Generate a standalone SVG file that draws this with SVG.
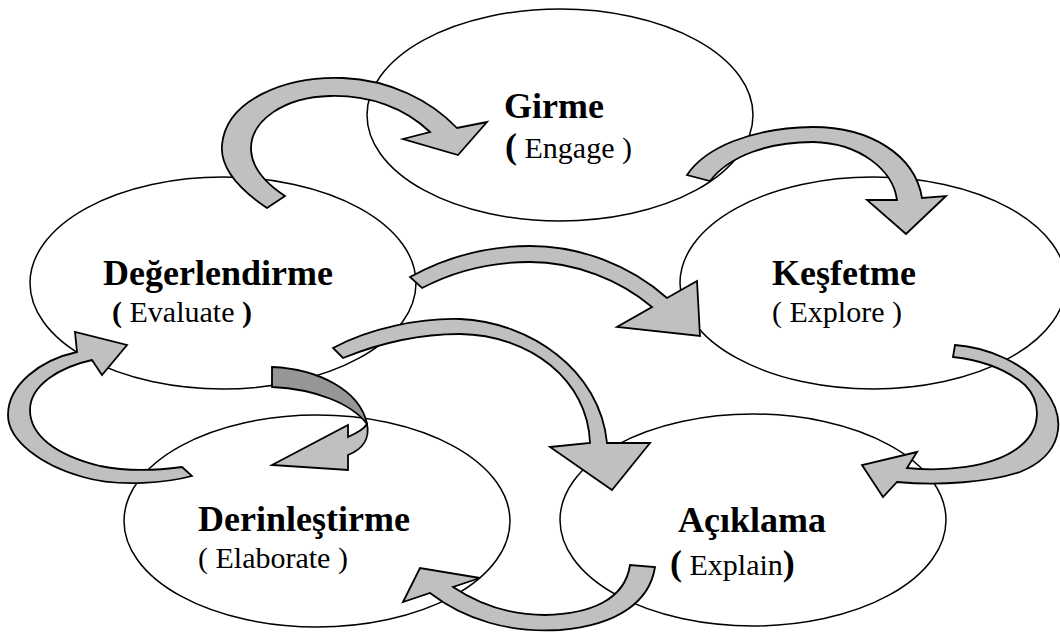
<svg xmlns="http://www.w3.org/2000/svg" width="1060" height="632" viewBox="0 0 1060 632">
  <style>
    .node ellipse { fill: #ffffff; stroke: #000000; stroke-width: 1.5; }
    .title { font-family: "Liberation Serif", "Times New Roman", serif; font-weight: bold; font-size: 36px; fill: #000000; }
    .eng { font-family: "Liberation Serif", "Times New Roman", serif; font-weight: normal; font-size: 30px; fill: #000000; }
    .b { font-weight: bold; }
    .big { font-size: 36px; }
    .arrow { fill: #c0c0c0; stroke: #000000; stroke-width: 1.8; stroke-linejoin: miter; }
    .arrow-dark { fill: #969696; stroke: #000000; stroke-width: 1.8; }
  </style>
  <rect width="1060" height="632" fill="#ffffff"/>

  <!-- cycle stages -->
  <g id="girme" class="node">
    <ellipse cx="560" cy="115" rx="193" ry="106"/>
    <text class="title" x="504" y="118">Girme</text>
    <text class="eng" font-family="Liberation Serif, serif" font-size="30" x="505" y="158"><tspan class="b big">(</tspan> Engage )</text>
  </g>
  <g id="degerlendirme" class="node">
    <ellipse cx="223" cy="283" rx="193" ry="106"/>
    <text class="title" x="103" y="285">Değerlendirme</text>
    <text class="eng" font-family="Liberation Serif, serif" font-size="30" x="112" y="322"><tspan class="b">(</tspan> Evaluate <tspan class="b">)</tspan></text>
  </g>
  <g id="kesfetme" class="node">
    <ellipse cx="873" cy="283" rx="193" ry="106"/>
    <text class="title" x="772" y="285">Keşfetme</text>
    <text class="eng" font-family="Liberation Serif, serif" font-size="30" x="772" y="322">( Explore )</text>
  </g>
  <g id="derinlestirme" class="node">
    <ellipse cx="317" cy="521" rx="193" ry="106"/>
    <text class="title" x="198" y="531">Derinleştirme</text>
    <text class="eng" font-family="Liberation Serif, serif" font-size="30" x="198" y="568">( Elaborate )</text>
  </g>
  <g id="aciklama" class="node">
    <ellipse cx="753" cy="520" rx="193" ry="106"/>
    <text class="title" x="678" y="532">Açıklama</text>
    <text class="eng" font-family="Liberation Serif, serif" font-size="30" x="670" y="575"><tspan class="b big">(</tspan> Explain<tspan class="b big">)</tspan></text>
  </g>

  <!-- curved block arrows -->
  <g id="connectors">
    <!-- Değerlendirme to Girme -->
    <path class="arrow" d="M267,208 C240,190 220,168 222,145 C226,100 285,76 343,78 C390,80 430,100 457,128 L487,122 L458,155 L403,139 L430,132 C405,108 370,95 330,96 C285,97 250,120 251,150 C252,168 265,183 285,196 Z"/>
    <!-- Girme to Keşfetme -->
    <path class="arrow" d="M687,175 C705,148 750,128 813,127 C870,127 915,155 922,198 L946,196 L906,234 L867,200 L897,200 C893,170 860,143 813,142 C770,142 730,155 710,181 Z"/>
    <!-- Değerlendirme to Keşfetme -->
    <path class="arrow" d="M410,277 C450,255 490,246 530,246 C580,246 630,265 667,298 L697,281 L700,336 L617,327 L652,307 C620,280 575,262 530,262 C500,262 460,268 422,288 Z"/>
    <!-- Değerlendirme to Açıklama -->
    <path class="arrow" d="M333,348 C370,328 420,318 460,319 C530,322 600,370 607,443 L650,443 L612,490 L550,447 L590,443 C588,380 530,335 460,334 C420,334 380,343 343,358 Z"/>
    <!-- Değerlendirme to Derinleştirme (twisted ribbon) -->
    <path class="arrow-dark" d="M272,367 C318,369 360,390 367,424 C352,404 316,389 272,387 Z"/>
    <path class="arrow" d="M367,424 C370,438 363,449 348,455 L348,470 L272,465 L348,425 L348,437 C357,433 364,429 367,424 Z"/>
    <!-- Derinleştirme to Değerlendirme -->
    <path class="arrow" d="M192,476 C170,482 120,488 83,477 C40,465 8,440 8,415 C8,385 40,360 77,352 L75,332 L127,345 L102,375 L92,360 C60,367 30,385 30,410 C30,435 55,455 100,466 C130,472 160,470 182,467 Z"/>
    <!-- Keşfetme to Açıklama -->
    <path class="arrow" d="M955,345 C985,347 1025,362 1045,390 C1068,420 1062,455 1020,472 C990,482 940,486 897,482 L883,497 L862,465 L917,452 L907,468 C945,472 990,467 1015,450 C1045,430 1040,400 1025,385 C1005,368 980,360 953,357 Z"/>
    <!-- Açıklama to Derinleştirme -->
    <path class="arrow" d="M655,567 C650,600 620,625 560,630 C510,633 465,620 430,593 L403,602 L420,568 L480,578 L453,587 C480,605 510,615 545,615 C590,614 625,600 630,565 Z"/>
  </g>
</svg>
